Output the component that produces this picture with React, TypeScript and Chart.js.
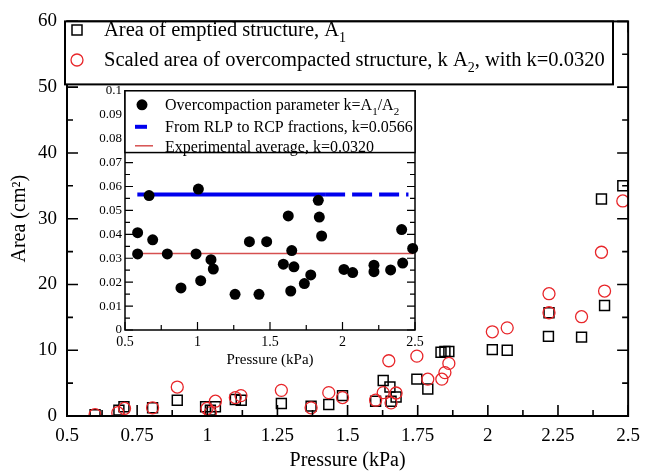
import { useEffect, useRef } from 'react';
import { Chart, registerables } from 'chart.js';

Chart.register(...registerables);

const FONT = "'Liberation Serif', 'Times New Roman', serif";

// ---- Main chart data ----
const pressureA1 = [0.60, 0.685, 0.703, 0.805, 0.893, 0.994, 1.011, 1.029, 1.10, 1.121, 1.264, 1.37, 1.433, 1.482, 1.60, 1.627, 1.651, 1.655, 1.673, 1.747, 1.786, 1.833, 1.847, 1.861, 2.016, 2.069, 2.216, 2.218, 2.334, 2.405, 2.416, 2.481];
const areaA1 = [0.2, 0.9, 1.4, 1.25, 2.4, 1.4, 0.9, 1.4, 2.5, 2.4, 1.9, 1.5, 1.75, 3.1, 2.25, 5.4, 4.4, 2.25, 2.9, 5.6, 4.1, 9.7, 9.8, 9.8, 10.1, 10.0, 12.1, 15.7, 12.0, 33.0, 16.8, 35.0];
const pressureA2 = [0.60, 0.681, 0.705, 0.805, 0.893, 0.999, 1.011, 1.029, 1.10, 1.12, 1.264, 1.37, 1.433, 1.482, 1.60, 1.627, 1.647, 1.655, 1.673, 1.747, 1.786, 1.836, 1.847, 1.861, 2.016, 2.069, 2.218, 2.218, 2.334, 2.405, 2.416, 2.481];
const scaledA2 = [0.2, 0.5, 1.15, 1.25, 4.4, 1.15, 0.5, 2.25, 2.8, 3.1, 3.9, 1.25, 3.55, 2.8, 2.4, 3.55, 8.4, 2.0, 3.5, 9.1, 5.6, 5.6, 6.6, 8.0, 12.8, 13.4, 18.6, 15.7, 15.1, 24.9, 19.0, 32.7];

const mainXTicks = [0.5, 0.75, 1, 1.25, 1.5, 1.75, 2, 2.25, 2.5];
const mainXLabels = ['0.5', '0.75', '1', '1.25', '1.5', '1.75', '2', '2.25', '2.5'];
const mainXMinor = [0.625, 0.875, 1.125, 1.375, 1.625, 1.875, 2.125, 2.375];
const mainYTicks = [0, 10, 20, 30, 40, 50, 60];
const mainYLabels = ['0', '10', '20', '30', '40', '50', '60'];
const mainYMinor = [5, 15, 25, 35, 45, 55];

// ---- Inset data ----
const insetPressure = [0.587, 0.587, 0.666, 0.691, 0.792, 0.886, 0.990, 1.006, 1.022, 1.093, 1.109, 1.259, 1.358, 1.424, 1.477, 1.592, 1.626, 1.643, 1.650, 1.665, 1.737, 1.781, 1.833, 1.840, 1.856, 2.010, 2.070, 2.217, 2.217, 2.332, 2.408, 2.415, 2.484];
const insetK = [0.0407, 0.0318, 0.0562, 0.0377, 0.0318, 0.0176, 0.0318, 0.0589, 0.0206, 0.0294, 0.0255, 0.0149, 0.0369, 0.0149, 0.0369, 0.0275, 0.0477, 0.0163, 0.0332, 0.0264, 0.0194, 0.0230, 0.0542, 0.0472, 0.0393, 0.0253, 0.0240, 0.0271, 0.0244, 0.0251, 0.0420, 0.0280, 0.0341];
const kRlpRcp = 0.0566;
const rlpSolidRange = [0.585, 1.88];
const rlpDashedRange = [1.88, 2.455];
const kAverage = 0.0320;
const averageRange = [0.585, 2.49];

const insetXTicks = [0.5, 1, 1.5, 2, 2.5];
const insetXLabels = ['0.5', '1', '1.5', '2', '2.5'];
const insetXMinor = [0.75, 1.25, 1.75, 2.25];
const insetYTicks = [0, 0.01, 0.02, 0.03, 0.04, 0.05, 0.06, 0.07, 0.08, 0.09, 0.1];
const insetYLabels = ['0', '0.01', '0.02', '0.03', '0.04', '0.05', '0.06', '0.07', '0.08', '0.09', '0.1'];
const insetYMinor = [0.005, 0.015, 0.025, 0.035, 0.045, 0.055, 0.065, 0.075, 0.085, 0.095];

type Part = { t: string; sub?: boolean };

function drawRich(ctx: CanvasRenderingContext2D, parts: Part[], x: number, y: number, size: number) {
  let cx = x;
  ctx.fillStyle = '#000';
  ctx.textAlign = 'left';
  ctx.textBaseline = 'alphabetic';
  for (const p of parts) {
    const s = p.sub ? Math.round(size * 0.68) : size;
    ctx.font = `${s}px ${FONT}`;
    ctx.fillText(p.t, cx, y + (p.sub ? size * 0.3 : 0));
    cx += ctx.measureText(p.t).width;
  }
}

function framePlugin(cfg: { xMajor: number[]; xMinor: number[]; yMajor: number[]; yMinor: number[]; major: number; minor: number; lw: number; white?: boolean }) {
  return {
    id: 'frameTicks',
    beforeDatasetsDraw(chart: any) {
      if (!cfg.white) return;
      const { ctx, chartArea: a } = chart;
      ctx.save();
      ctx.fillStyle = '#fff';
      ctx.fillRect(a.left, a.top, a.right - a.left, a.bottom - a.top);
      ctx.restore();
    },
    afterDatasetsDraw(chart: any) {
      const { ctx, chartArea: a, scales } = chart;
      const xs = scales.x, ys = scales.y;
      ctx.save();
      ctx.strokeStyle = '#000';
      ctx.lineWidth = cfg.lw * 0.8;
      ctx.beginPath();
      const tx = (v: number, len: number) => {
        const p = xs.getPixelForValue(v);
        ctx.moveTo(p, a.bottom); ctx.lineTo(p, a.bottom - len);
        ctx.moveTo(p, a.top); ctx.lineTo(p, a.top + len);
      };
      const ty = (v: number, len: number) => {
        const p = ys.getPixelForValue(v);
        ctx.moveTo(a.left, p); ctx.lineTo(a.left + len, p);
        ctx.moveTo(a.right, p); ctx.lineTo(a.right - len, p);
      };
      cfg.xMajor.forEach(v => tx(v, cfg.major));
      cfg.xMinor.forEach(v => tx(v, cfg.minor));
      cfg.yMajor.forEach(v => ty(v, cfg.major));
      cfg.yMinor.forEach(v => ty(v, cfg.minor));
      ctx.stroke();
      ctx.lineWidth = cfg.lw;
      ctx.strokeRect(a.left, a.top, a.right - a.left, a.bottom - a.top);
      ctx.restore();
    },
  };
}

const mainLegendPlugin = {
  id: 'mainLegend',
  afterDraw(chart: any) {
    const { ctx, chartArea: a } = chart;
    const x0 = a.left - 2, y0 = a.top, w = 548, h = 63;
    ctx.save();
    ctx.fillStyle = '#fff';
    ctx.fillRect(x0, y0, w, h);
    ctx.strokeStyle = '#000';
    ctx.lineWidth = 2;
    ctx.strokeRect(x0, y0, w, h);
    // square marker
    ctx.lineWidth = 1.5;
    ctx.strokeRect(77 - 5, 30 - 5, 10, 10);
    ctx.strokeStyle = '#e8262a';
    ctx.lineWidth = 1.3;
    ctx.beginPath();
    ctx.arc(77, 60, 6, 0, Math.PI * 2);
    ctx.stroke();
    drawRich(ctx, [{ t: 'Area of emptied structure, A' }, { t: '1', sub: true }], 104, 36, 20.5);
    drawRich(ctx, [{ t: 'Scaled area of overcompacted structure, k A' }, { t: '2', sub: true }, { t: ', with k=0.0320' }], 104, 66, 20.5);
    ctx.restore();
  },
};

const insetLegendPlugin = {
  id: 'insetLegend',
  afterDraw(chart: any) {
    const { ctx, chartArea: a } = chart;
    const x0 = a.left, y0 = a.top, w = a.right - a.left, h = chart.scales.y.getPixelForValue(0.07) - a.top - 10;
    ctx.save();
    ctx.fillStyle = '#fff';
    ctx.fillRect(x0, y0, w, h);
    ctx.strokeStyle = '#000';
    ctx.lineWidth = 1.5;
    ctx.strokeRect(x0, y0, w, h);
    const mx = x0 + 17;
    ctx.fillStyle = '#000';
    ctx.beginPath();
    ctx.arc(mx, y0 + 14, 5.5, 0, Math.PI * 2);
    ctx.fill();
    ctx.strokeStyle = '#0000ee';
    ctx.lineWidth = 4;
    ctx.beginPath();
    ctx.moveTo(mx - 7, y0 + 36); ctx.lineTo(mx + 5, y0 + 36);
    ctx.stroke();
    ctx.strokeStyle = '#d65050';
    ctx.lineWidth = 1.5;
    ctx.beginPath();
    ctx.moveTo(mx - 7, y0 + 55); ctx.lineTo(mx + 11, y0 + 55);
    ctx.stroke();
    drawRich(ctx, [{ t: 'Overcompaction parameter k=A' }, { t: '1', sub: true }, { t: '/A' }, { t: '2', sub: true }], x0 + 40, y0 + 19, 16);
    drawRich(ctx, [{ t: 'From RLP to RCP fractions, k=0.0566' }], x0 + 40, y0 + 41, 16);
    drawRich(ctx, [{ t: 'Experimental average, k=0.0320' }], x0 + 40, y0 + 61, 16);
    ctx.restore();
  },
};

function toPts(xs: number[], ys: number[]) {
  return xs.map((x, i) => ({ x, y: ys[i] }));
}

function MainChart() {
  const ref = useRef<HTMLCanvasElement>(null);
  useEffect(() => {
    const chart = new Chart(ref.current!, {
      type: 'scatter',
      data: {
        datasets: [
          {
            label: 'Scaled area of overcompacted structure, k A2, with k=0.0320',
            data: toPts(pressureA2, scaledA2),
            pointStyle: 'circle',
            pointRadius: 6,
            borderColor: '#e8262a',
            backgroundColor: 'rgba(0,0,0,0)',
            borderWidth: 1.3,
          },
          {
            label: 'Area of emptied structure, A1',
            data: toPts(pressureA1, areaA1),
            pointStyle: 'rect',
            pointRadius: 7,
            borderColor: '#000',
            backgroundColor: 'rgba(0,0,0,0)',
            borderWidth: 1.5,
          },
        ],
      },
      options: {
        animation: false,
        responsive: false,
        events: [],
        layout: { padding: { left: 0, top: 15, right: 16, bottom: 0 } },
        plugins: { legend: { display: false }, tooltip: { enabled: false } },
        scales: {
          x: {
            type: 'linear',
            min: 0.5,
            max: 2.5,
            afterBuildTicks: (s: any) => { s.ticks = mainXTicks.map(v => ({ value: v })); },
            afterFit: (s: any) => { s.height = 57; },
            grid: { display: false, drawTicks: false },
            border: { display: false },
            ticks: {
              autoSkip: false, maxRotation: 0, padding: 9, color: '#000',
              font: { family: FONT, size: 19 },
              callback: (_v: any, i: number) => mainXLabels[i],
            },
            title: { display: true, text: 'Pressure (kPa)', color: '#000', font: { family: FONT, size: 20 }, padding: { top: 0, bottom: 0 } },
          },
          y: {
            type: 'linear',
            min: 0,
            max: 60,
            afterBuildTicks: (s: any) => { s.ticks = mainYTicks.map(v => ({ value: v })); },
            afterFit: (s: any) => { s.width = 67; },
            grid: { display: false, drawTicks: false },
            border: { display: false },
            ticks: {
              autoSkip: false, padding: 10, color: '#000',
              font: { family: FONT, size: 19 },
              callback: (_v: any, i: number) => mainYLabels[i],
            },
            title: { display: true, text: 'Area (cm²)', color: '#000', font: { family: FONT, size: 20 }, padding: { top: 8, bottom: 0 } },
          },
        },
      },
      plugins: [
        framePlugin({ xMajor: mainXTicks, xMinor: mainXMinor, yMajor: mainYTicks, yMinor: mainYMinor, major: 11, minor: 6, lw: 2 }),
        mainLegendPlugin,
      ],
    } as any);
    return () => chart.destroy();
  }, []);
  return <canvas ref={ref} width={649} height={473} style={{ position: 'absolute', left: 0, top: 0 }} />;
}

function InsetChart() {
  const ref = useRef<HTMLCanvasElement>(null);
  useEffect(() => {
    const chart = new Chart(ref.current!, {
      type: 'scatter',
      data: {
        datasets: [
          {
            label: 'Overcompaction parameter k=A1/A2',
            data: toPts(insetPressure, insetK),
            pointStyle: 'circle',
            pointRadius: 5.5,
            backgroundColor: '#000',
            borderColor: '#000',
            borderWidth: 0,
            clip: false,
          },
          {
            label: 'From RLP to RCP fractions, k=0.0566',
            type: 'line',
            data: rlpSolidRange.map(x => ({ x, y: kRlpRcp })),
            borderColor: '#0000ee',
            borderWidth: 4,
            pointRadius: 0,
            fill: false,
          },
          {
            label: 'From RLP to RCP fractions (dashed)',
            type: 'line',
            data: rlpDashedRange.map(x => ({ x, y: kRlpRcp })),
            borderColor: '#0000ee',
            borderWidth: 4,
            borderDash: [20, 7],
            pointRadius: 0,
            fill: false,
          },
          {
            label: 'Experimental average, k=0.0320',
            type: 'line',
            data: averageRange.map(x => ({ x, y: kAverage })),
            borderColor: '#d65050',
            borderWidth: 1.5,
            pointRadius: 0,
            fill: false,
          },
        ],
      },
      options: {
        animation: false,
        responsive: false,
        events: [],
        layout: { padding: { left: 0, top: 4, right: 15, bottom: 0 } },
        plugins: { legend: { display: false }, tooltip: { enabled: false } },
        scales: {
          x: {
            type: 'linear',
            min: 0.5,
            max: 2.5,
            afterBuildTicks: (s: any) => { s.ticks = insetXTicks.map(v => ({ value: v })); },
            afterFit: (s: any) => { s.height = 50; },
            grid: { display: false, drawTicks: false },
            border: { display: false },
            ticks: {
              autoSkip: false, maxRotation: 0, padding: 4, color: '#000',
              font: { family: FONT, size: 14 },
              callback: (_v: any, i: number) => insetXLabels[i],
            },
            title: { display: true, text: 'Pressure (kPa)', color: '#000', font: { family: FONT, size: 15 }, padding: { top: 0, bottom: 11 } },
          },
          y: {
            type: 'linear',
            min: 0,
            max: 0.1,
            afterBuildTicks: (s: any) => { s.ticks = insetYTicks.map(v => ({ value: v })); },
            afterFit: (s: any) => { s.width = 35; },
            grid: { display: false, drawTicks: false },
            border: { display: false },
            ticks: {
              autoSkip: false, padding: 3, color: '#000',
              font: { family: FONT, size: 13 },
              callback: (_v: any, i: number) => insetYLabels[i],
            },
            title: { display: false, text: 'k' },
          },
        },
      },
      plugins: [
        framePlugin({ xMajor: insetXTicks, xMinor: insetXMinor, yMajor: insetYTicks, yMinor: insetYMinor, major: 8, minor: 5, lw: 1.5, white: true }),
        insetLegendPlugin,
      ],
    } as any);
    return () => chart.destroy();
  }, []);
  return <canvas ref={ref} width={340} height={300} style={{ position: 'absolute', left: 90, top: 80 }} />;
}

export default function App() {
  return (
    <div style={{ position: 'absolute', left: 0, top: 0, width: 649, height: 473, background: '#fff' }}>
      <MainChart />
      <InsetChart />
    </div>
  );
}
